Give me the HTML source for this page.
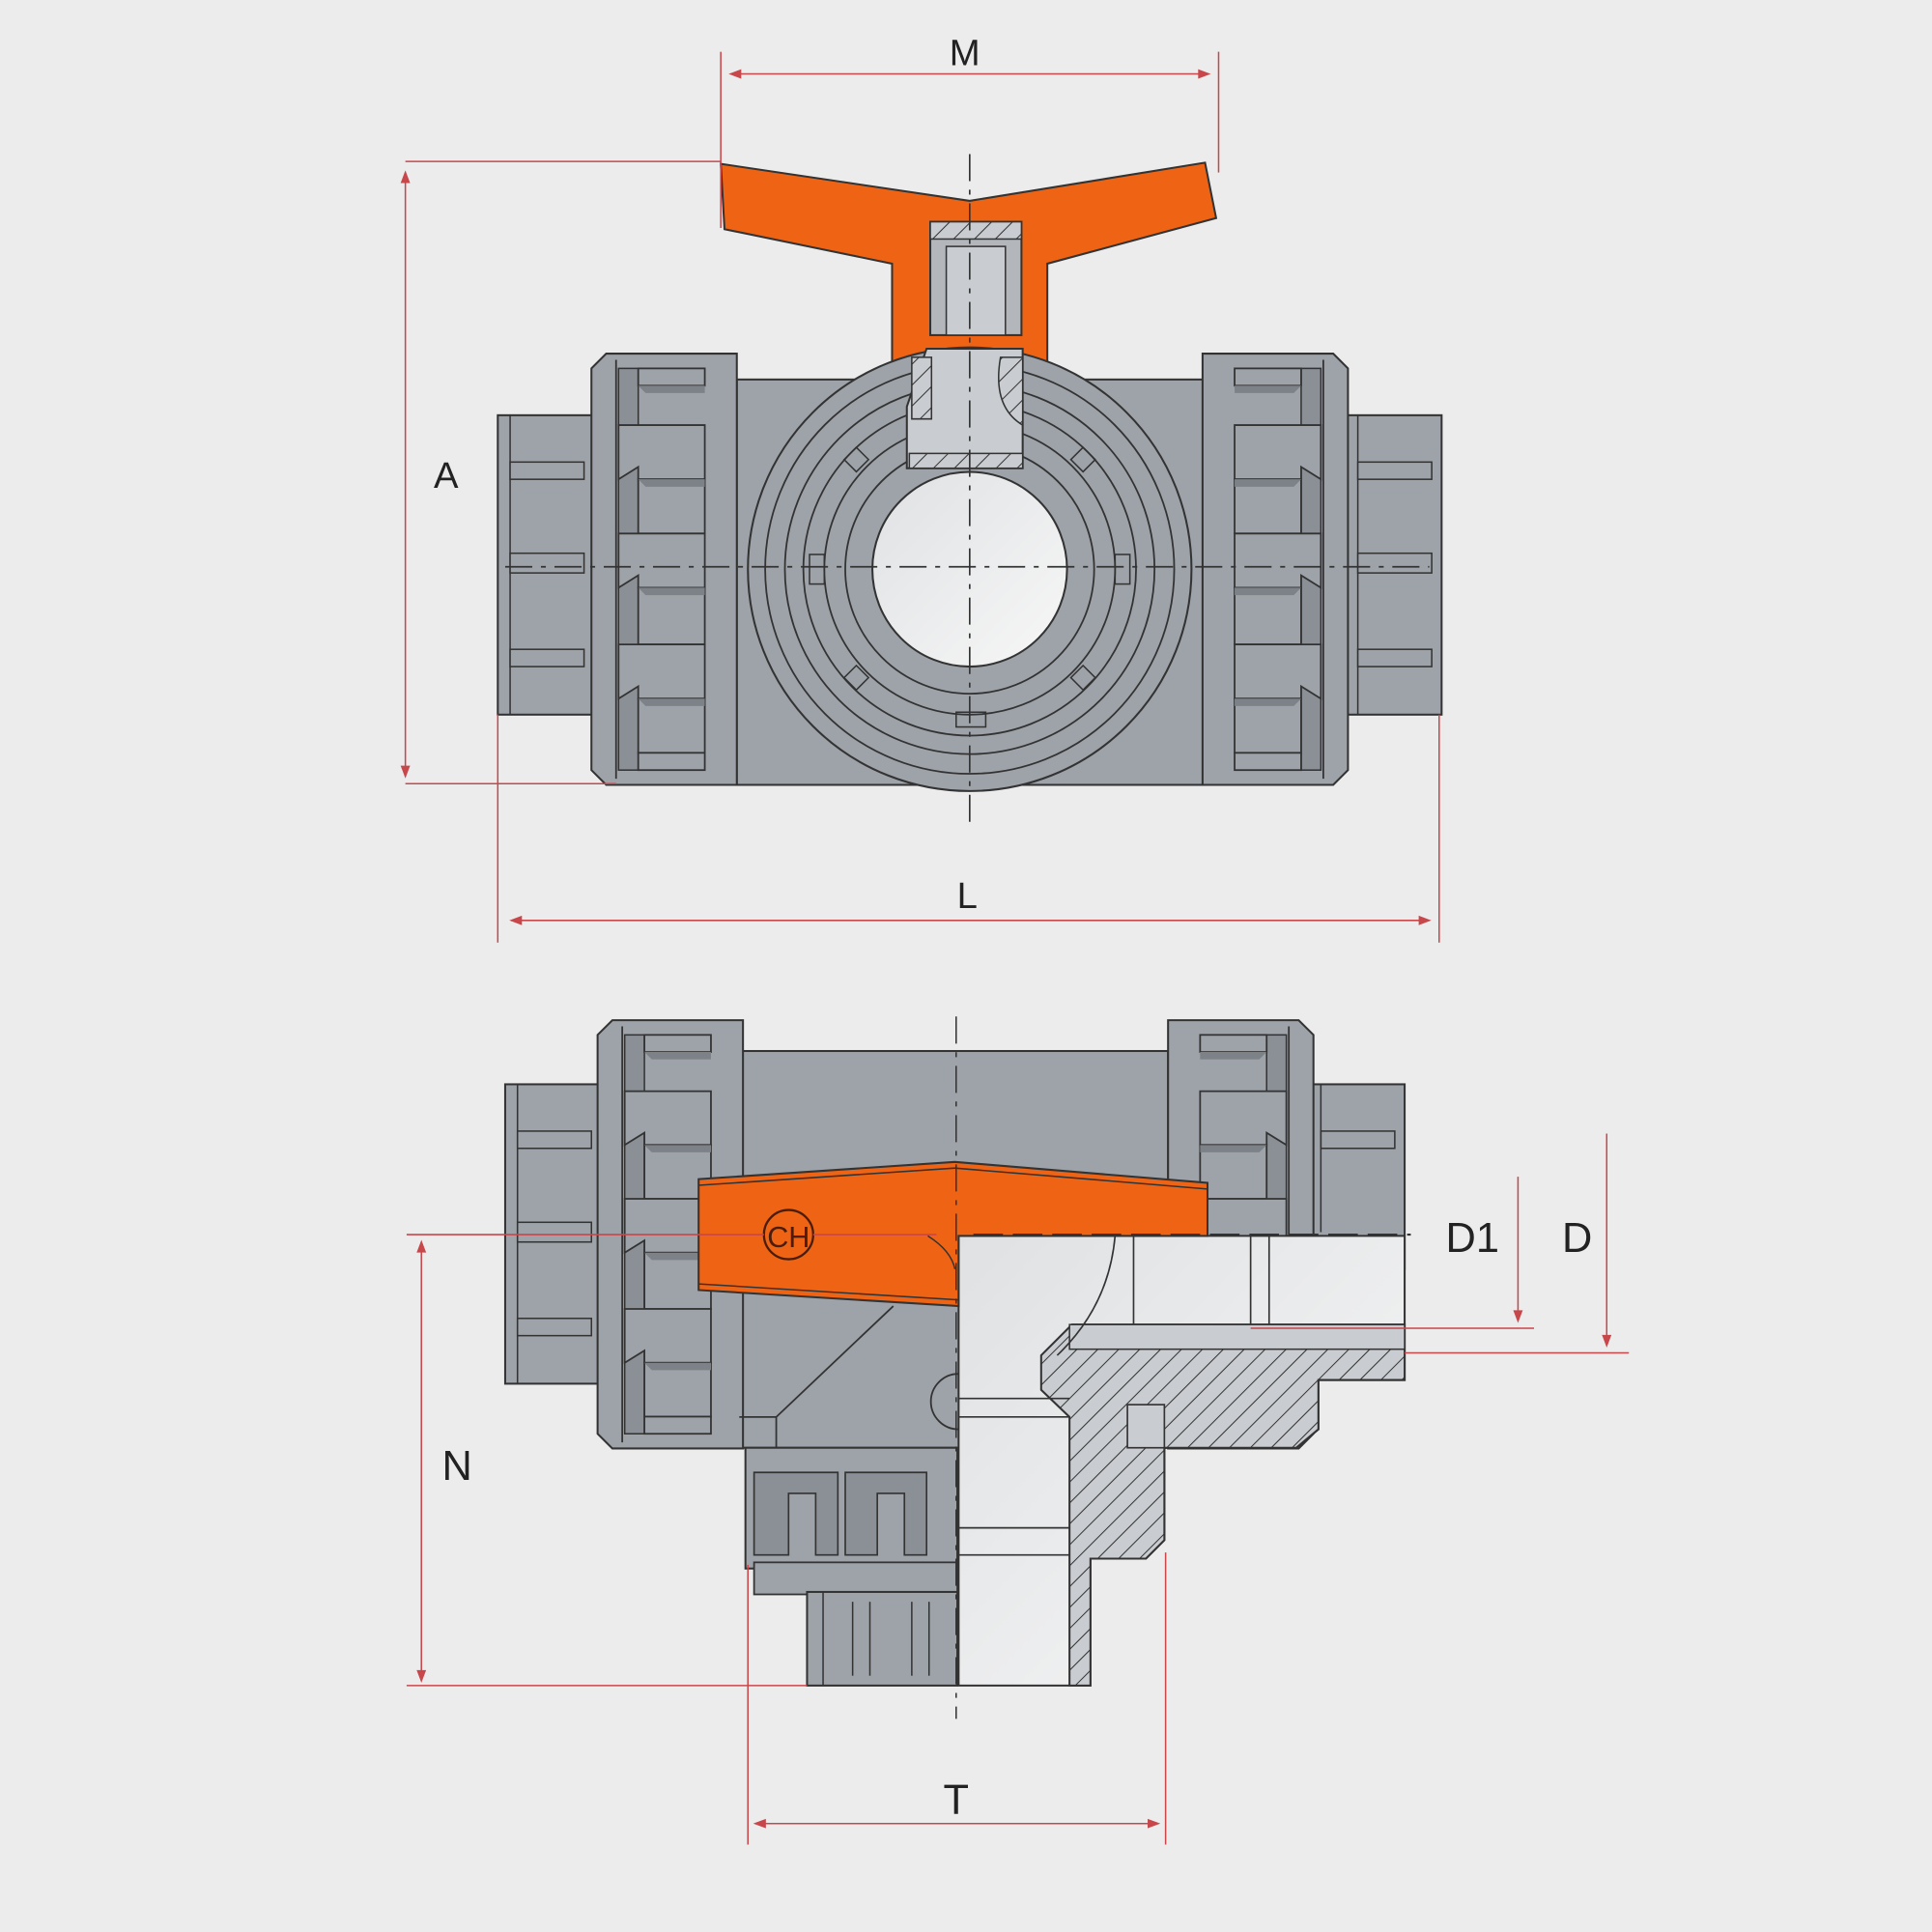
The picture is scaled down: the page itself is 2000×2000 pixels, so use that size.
<!DOCTYPE html>
<html><head><meta charset="utf-8"><style>
html,body{margin:0;padding:0;background:#ececec}
svg{display:block}
text{font-family:"Liberation Sans",sans-serif;fill:#222}
</style></head><body>
<svg width="2000" height="2000" viewBox="0 0 1568 1568" xmlns="http://www.w3.org/2000/svg">
<defs>
<pattern id="h" patternUnits="userSpaceOnUse" width="12" height="12" patternTransform="rotate(45)">
<rect width="12" height="12" fill="#c9ccd0"/><line x1="0" y1="0" x2="0" y2="12" stroke="#333" stroke-width="1.6"/>
</pattern>
<linearGradient id="w" x1="0" y1="0" x2="1" y2="1"><stop offset="0" stop-color="#dfe1e3"/><stop offset="1" stop-color="#f7f7f7"/></linearGradient>
<g id="nut">
<path d="M0,12 L12,0 L118,0 L118,350 L12,350 L0,338 Z" fill="#9ea3a9" stroke="#333" stroke-width="1.6"/>
<line x1="20" y1="5" x2="20" y2="345" stroke="#333" stroke-width="1.4"/>
<rect x="22" y="12" width="16" height="326" fill="#8b9096" stroke="#333" stroke-width="1.2"/>
<g fill="#9ea3a9" stroke="#333" stroke-width="1.4">
<rect x="38" y="12" width="54" height="14"/>
<path d="M22,58 H92 V102 H38 V92 L22,102 Z"/>
<rect x="38" y="102" width="54" height="44" fill="none"/>
<path d="M22,146 H92 V190 H38 V180 L22,190 Z"/>
<rect x="38" y="190" width="54" height="46" fill="none"/>
<path d="M22,236 H92 V280 H38 V270 L22,280 Z"/>
<rect x="38" y="280" width="54" height="44" fill="none"/>
<rect x="38" y="324" width="54" height="14"/>
</g>
<g fill="#7d8288"><path d="M38,26 H92 V32 H44 Z"/><path d="M38,102 H92 V108 H44 Z"/><path d="M38,190 H92 V196 H44 Z"/><path d="M38,280 H92 V286 H44 Z"/></g>
</g>
<g id="cap">
<rect x="0" y="0" width="78" height="243" fill="#9ea3a9" stroke="#333" stroke-width="1.6"/>
<line x1="10" y1="0" x2="10" y2="243" stroke="#333" stroke-width="1.2"/>
<rect x="10" y="38" width="60" height="14" fill="#9ea3a9" stroke="#333" stroke-width="1.2"/>
<rect x="10" y="112" width="60" height="16" fill="#9ea3a9" stroke="#333" stroke-width="1.2"/>
<rect x="10" y="190" width="60" height="14" fill="#9ea3a9" stroke="#333" stroke-width="1.2"/>
</g>
</defs>
<rect width="1568" height="1568" fill="#ececec"/>

<!-- ========== TOP VIEW ========== -->
<rect x="598" y="308" width="380" height="329" fill="#9ea3a9" stroke="#333" stroke-width="1.6"/>
<use href="#cap" x="404" y="337"/>
<use href="#nut" x="480" y="287"/>
<use href="#cap" x="1092" y="337"/>
<use href="#nut" transform="translate(1094,287) scale(-1,1)"/>
<!-- handle -->
<path d="M585,133 L787,163 L978,132 L987,177 L850,214 L850,295 L724,295 L724,214 L588,186 Z" fill="#ee6414" stroke="#333" stroke-width="1.6"/>
<!-- body circle -->
<circle cx="787" cy="462" r="180" fill="#9ea3a9" stroke="#333" stroke-width="1.6"/>
<circle cx="787" cy="462" r="166" fill="none" stroke="#333" stroke-width="1.4"/>
<circle cx="787" cy="462" r="150" fill="none" stroke="#333" stroke-width="1.4"/>
<circle cx="787" cy="462" r="135" fill="none" stroke="#333" stroke-width="1.4"/>
<circle cx="787" cy="462" r="118" fill="none" stroke="#333" stroke-width="1.4"/>
<circle cx="787" cy="462" r="101" fill="none" stroke="#333" stroke-width="1.4"/>
<circle cx="787" cy="462" r="79" fill="url(#w)" stroke="#333" stroke-width="1.6"/>
<g fill="none" stroke="#333" stroke-width="1.2">
<rect x="657" y="450" width="12" height="24"/><rect x="905" y="450" width="12" height="24"/>
<rect x="776" y="578" width="24" height="12"/>
<rect x="688" y="366" width="14" height="14" transform="rotate(45 695 373)"/>
<rect x="872" y="366" width="14" height="14" transform="rotate(45 879 373)"/>
<rect x="688" y="543" width="14" height="14" transform="rotate(45 695 550)"/>
<rect x="872" y="543" width="14" height="14" transform="rotate(45 879 550)"/>
</g>
<!-- stem -->
<rect x="755" y="180" width="74" height="92" fill="#b3b7bc" stroke="#333" stroke-width="1.6"/>
<rect x="768" y="200" width="48" height="72" fill="#c9ccd0" stroke="#333" stroke-width="1.2"/>
<rect x="755" y="180" width="74" height="14" fill="url(#h)" stroke="#333" stroke-width="1.2"/>
<path d="M752,283 L830,283 L830,380 L736,380 L736,330 Z" fill="#c9ccd0" stroke="#333" stroke-width="1.6"/>
<rect x="738" y="368" width="92" height="12" fill="url(#h)" stroke="#333" stroke-width="1.2"/>
<path d="M740,290 L756,290 L756,340 L740,340 Z" fill="url(#h)" stroke="#333" stroke-width="1.2"/>
<path d="M812,290 L830,290 L830,345 Q805,330 812,290 Z" fill="url(#h)" stroke="#333" stroke-width="1.2"/>
<!-- center lines -->
<line x1="787" y1="125" x2="787" y2="672" stroke="#333" stroke-width="1.3" stroke-dasharray="22,7,4,7"/>
<line x1="410" y1="460" x2="1160" y2="460" stroke="#333" stroke-width="1.3" stroke-dasharray="22,7,4,7"/>

<!-- dims top -->
<g stroke="#c8474b" stroke-width="1.2" fill="#c8474b">
<line x1="585" y1="42" x2="585" y2="185"/><line x1="989" y1="42" x2="989" y2="140"/>
<line x1="593" y1="60" x2="981" y2="60"/>
<path d="M593,60 l8,-3 v6 Z"/><path d="M981,60 l-8,-3 v6 Z"/>
<line x1="329" y1="131" x2="585" y2="131"/><line x1="329" y1="636" x2="500" y2="636"/>
<line x1="329" y1="140" x2="329" y2="630"/>
<path d="M329,140 l-3,8 h6 Z"/><path d="M329,630 l-3,-8 h6 Z"/>
<line x1="404" y1="580" x2="404" y2="765"/><line x1="1168" y1="580" x2="1168" y2="765"/>
<line x1="415" y1="747" x2="1160" y2="747"/>
<path d="M415,747 l8,-3 v6 Z"/><path d="M1160,747 l-8,-3 v6 Z"/>
</g>
<text x="783" y="53" font-size="30" text-anchor="middle">M</text>
<text x="362" y="396" font-size="30" text-anchor="middle">A</text>
<text x="785" y="737" font-size="30" text-anchor="middle">L</text>

<!-- ========== BOTTOM VIEW ========== -->
<rect x="600" y="853" width="348" height="322" fill="#9ea3a9" stroke="#333" stroke-width="1.6"/>
<!-- bottom branch -->
<rect x="605" y="1175" width="172" height="98" fill="#9ea3a9" stroke="#333" stroke-width="1.6"/>
<g fill="#8b9096" stroke="#333" stroke-width="1.3">
<path d="M612,1195 H680 V1262 H662 V1212 H640 V1262 H612 Z"/>
<path d="M686,1195 H752 V1262 H734 V1212 H712 V1262 H686 Z"/>
</g>
<rect x="612" y="1268" width="165" height="26" fill="#9ea3a9" stroke="#333" stroke-width="1.4"/>
<rect x="655" y="1292" width="122" height="76" fill="#9ea3a9" stroke="#333" stroke-width="1.6"/>
<g stroke="#333" stroke-width="1.2"><line x1="668" y1="1292" x2="668" y2="1368"/><line x1="692" y1="1300" x2="692" y2="1360"/><line x1="706" y1="1300" x2="706" y2="1360"/><line x1="740" y1="1300" x2="740" y2="1360"/><line x1="754" y1="1300" x2="754" y2="1360"/></g>
<use href="#cap" x="410" y="880"/>
<use href="#nut" transform="translate(485,828) scale(1,0.993)"/>
<rect x="1062" y="880" width="78" height="150" fill="#9ea3a9" stroke="#333" stroke-width="1.6"/>
<g stroke="#333" stroke-width="1.2" fill="none"><line x1="1072" y1="880" x2="1072" y2="1000"/><rect x="1072" y="918" width="60" height="14"/></g>
<use href="#nut" transform="translate(1066,828) scale(-1,0.993)"/>
<!-- diagonal body features -->
<g stroke="#333" stroke-width="1.4" fill="none">
<path d="M600,1150 L630,1150 L725,1060"/>
<line x1="630" y1="1150" x2="630" y2="1175"/>
<path d="M778,1115 A22,22 0 0,0 778,1160"/>
</g>
<!-- cutaway -->
<path d="M778,1003 H1140 V1120 H1070 V1160 L1052,1175 H945 V1250 L930,1265 H885 V1368 H778 Z" fill="url(#w)" stroke="#333" stroke-width="1.6"/>
<path d="M845,1100 L870,1075 H1140 V1120 H1070 V1160 L1052,1175 H945 V1250 L930,1265 H885 V1368 H868 V1150 L845,1128 Z" fill="url(#h)" stroke="#333" stroke-width="1.6"/>
<rect x="868" y="1075" width="272" height="20" fill="#c9ccd0" stroke="#333" stroke-width="1.2"/>
<g stroke="#333" stroke-width="1.3" fill="none">
<line x1="920" y1="1003" x2="920" y2="1075"/><line x1="1015" y1="1003" x2="1015" y2="1075"/><line x1="1030" y1="1003" x2="1030" y2="1075"/>
<path d="M905,1003 Q900,1060 858,1100"/>
<line x1="778" y1="1135" x2="868" y2="1135"/><line x1="778" y1="1150" x2="868" y2="1150"/>
<line x1="778" y1="1240" x2="868" y2="1240"/><line x1="778" y1="1262" x2="868" y2="1262"/>
<rect x="915" y="1140" width="30" height="35" fill="#c9ccd0"/>
</g>
<!-- handle -->
<path d="M567,957 L775,943 L980,960 L980,1003 L778,1003 L778,1060 L567,1047 Z" fill="#ee6414" stroke="#333" stroke-width="1.6"/>
<line x1="567" y1="962" x2="775" y2="948" stroke="#333" stroke-width="1.2"/>
<line x1="775" y1="948" x2="980" y2="965" stroke="#333" stroke-width="1.2"/>
<line x1="567" y1="1042" x2="778" y2="1055" stroke="#333" stroke-width="1.2"/>
<path d="M753,1003 Q772,1015 775,1030" fill="none" stroke="#333" stroke-width="1.2"/>
<circle cx="640" cy="1002" r="20" fill="none" stroke="#4a1d0a" stroke-width="1.8"/>
<text x="640" y="1012" font-size="24" text-anchor="middle" style="fill:#4a1d0a">CH</text>
<line x1="776" y1="825" x2="776" y2="1395" stroke="#333" stroke-width="1.2" stroke-dasharray="22,7,4,7"/>

<!-- dims bottom -->
<g stroke="#c8474b" stroke-width="1.2" fill="#c8474b">
<line x1="330" y1="1002" x2="620" y2="1002"/>
<line x1="660" y1="1002" x2="760" y2="1002"/>
<line x1="1232" y1="955" x2="1232" y2="1070"/><path d="M1232,1072 l-3,-8 h6 Z"/>
<line x1="1015" y1="1078" x2="1245" y2="1078"/>
<line x1="1304" y1="920" x2="1304" y2="1090"/><path d="M1304,1092 l-3,-8 h6 Z"/>
<line x1="1140" y1="1098" x2="1322" y2="1098"/>
<line x1="342" y1="1008" x2="342" y2="1364"/><path d="M342,1008 l-3,8 h6 Z"/><path d="M342,1364 l-3,-8 h6 Z"/>
<line x1="330" y1="1368" x2="655" y2="1368"/>
<line x1="607" y1="1270" x2="607" y2="1497"/><line x1="946" y1="1260" x2="946" y2="1497"/>
<line x1="613" y1="1480" x2="940" y2="1480"/><path d="M613,1480 l8,-3 v6 Z"/><path d="M940,1480 l-8,-3 v6 Z"/>
</g>
<line x1="790" y1="1002" x2="1145" y2="1002" stroke="#333" stroke-width="1.6" stroke-dasharray="24,8"/>
<text x="1195" y="1016" font-size="34" text-anchor="middle">D1</text>
<text x="1280" y="1016" font-size="34" text-anchor="middle">D</text>
<text x="371" y="1201" font-size="34" text-anchor="middle">N</text>
<text x="776" y="1472" font-size="34" text-anchor="middle">T</text>
</svg>
</body></html>
